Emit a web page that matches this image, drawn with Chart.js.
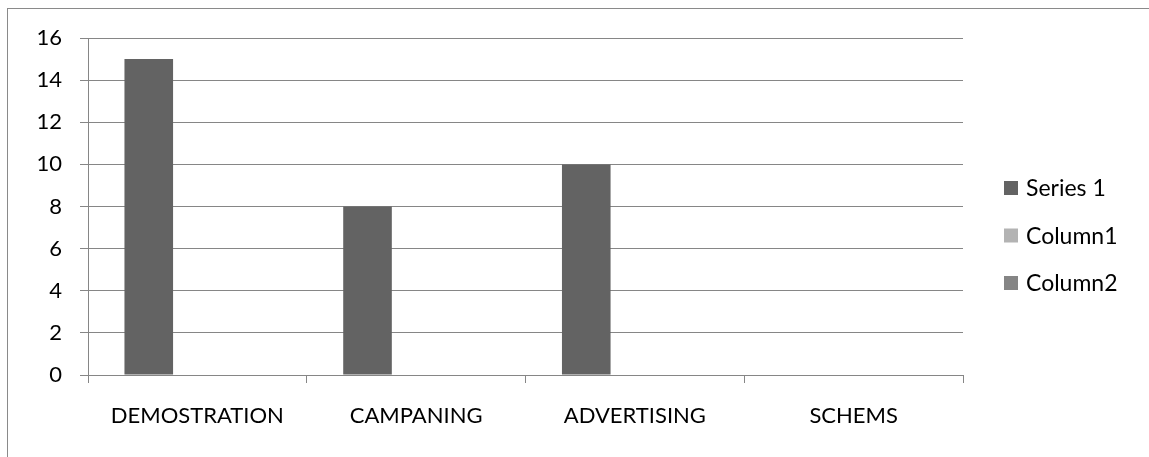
<!DOCTYPE html>
<html>
<head>
<meta charset="utf-8">
<script src="https://cdn.jsdelivr.net/npm/chart.js@4/dist/chart.umd.min.js"></script>
<style>
  html, body { margin: 0; padding: 0; background: #fff; overflow: hidden; }
  #wrap { position: relative; width: 1149px; height: 457px; }
  #frame { position: absolute; left: 7px; top: 8px; width: 1200px; height: 520px; border: 1px solid #8a8a8a; box-sizing: border-box; }
  #chart { position: absolute; left: 0; top: 0; }
</style>
</head>
<body>
<div id="wrap">
  <div id="frame"></div>
  <canvas id="chart" width="1149" height="457"></canvas>
</div>
<script>
// categories and series
const categories = ['DEMOSTRATION', 'CAMPANING', 'ADVERTISING', 'SCHEMS'];
const series1 = [15, 8, 10, 0];
const column1 = [null, null, null, null];
const column2 = [null, null, null, null];
const yTicks = [0, 2, 4, 6, 8, 10, 12, 14, 16];

const FONT = 'Lato, "Noto Sans", sans-serif';
const GRID = '#868686';

// draws the legend on the right, Excel style (box + label, stacked)
const sideLegend = {
  id: 'sideLegend',
  afterDraw(chart) {
    const { ctx, chartArea } = chart;
    const x = chartArea.right + 41;
    let y = chartArea.top + 150;
    ctx.save();
    ctx.font = '23px ' + FONT;
    ctx.textBaseline = 'middle';
    ctx.textAlign = 'left';
    chart.data.datasets.forEach(ds => {
      ctx.fillStyle = ds.backgroundColor;
      ctx.fillRect(x, y - 7, 14, 14);
      ctx.fillStyle = '#000';
      ctx.fillText(ds.label, x + 22, y + 1);
      y += 47.5;
    });
    ctx.restore();
  }
};

const ctx = document.getElementById('chart').getContext('2d');
new Chart(ctx, {
  type: 'bar',
  data: {
    labels: categories,
    datasets: [
      { label: 'Series 1', data: series1, backgroundColor: '#636363' },
      { label: 'Column1', data: column1, backgroundColor: '#b3b3b3' },
      { label: 'Column2', data: column2, backgroundColor: '#858585' },
    ],
  },
  options: {
    responsive: false,
    animation: false,
    layout: { padding: { top: 38, right: 186, left: 0, bottom: 0 } },
    datasets: {
      bar: { categoryPercentage: 3 / 4.5, barPercentage: 1, borderWidth: 0 },
    },
    scales: {
      x: {
        grid: { display: true, drawOnChartArea: false, drawTicks: true, tickLength: 8, color: GRID, offset: true },
        border: { display: true, color: GRID, width: 1 },
        ticks: { color: '#000', font: { family: FONT, size: 22 }, padding: 20, maxRotation: 0, autoSkip: false },
        afterFit: s => { s.height = 82; },
      },
      y: {
        min: 0,
        max: 16,
        afterBuildTicks: s => { s.ticks = yTicks.map(v => ({ value: v })); },
        grid: { color: GRID, lineWidth: 1, tickLength: 8, drawTicks: true },
        border: { display: true, color: GRID, width: 1 },
        ticks: { color: '#000', font: { family: FONT, size: 22 }, padding: 18 },
        afterFit: s => { s.width = 88; },
      },
    },
    plugins: {
      legend: { display: false },
      tooltip: { enabled: false },
    },
  },
  plugins: [sideLegend],
});
</script>
</body>
</html>
